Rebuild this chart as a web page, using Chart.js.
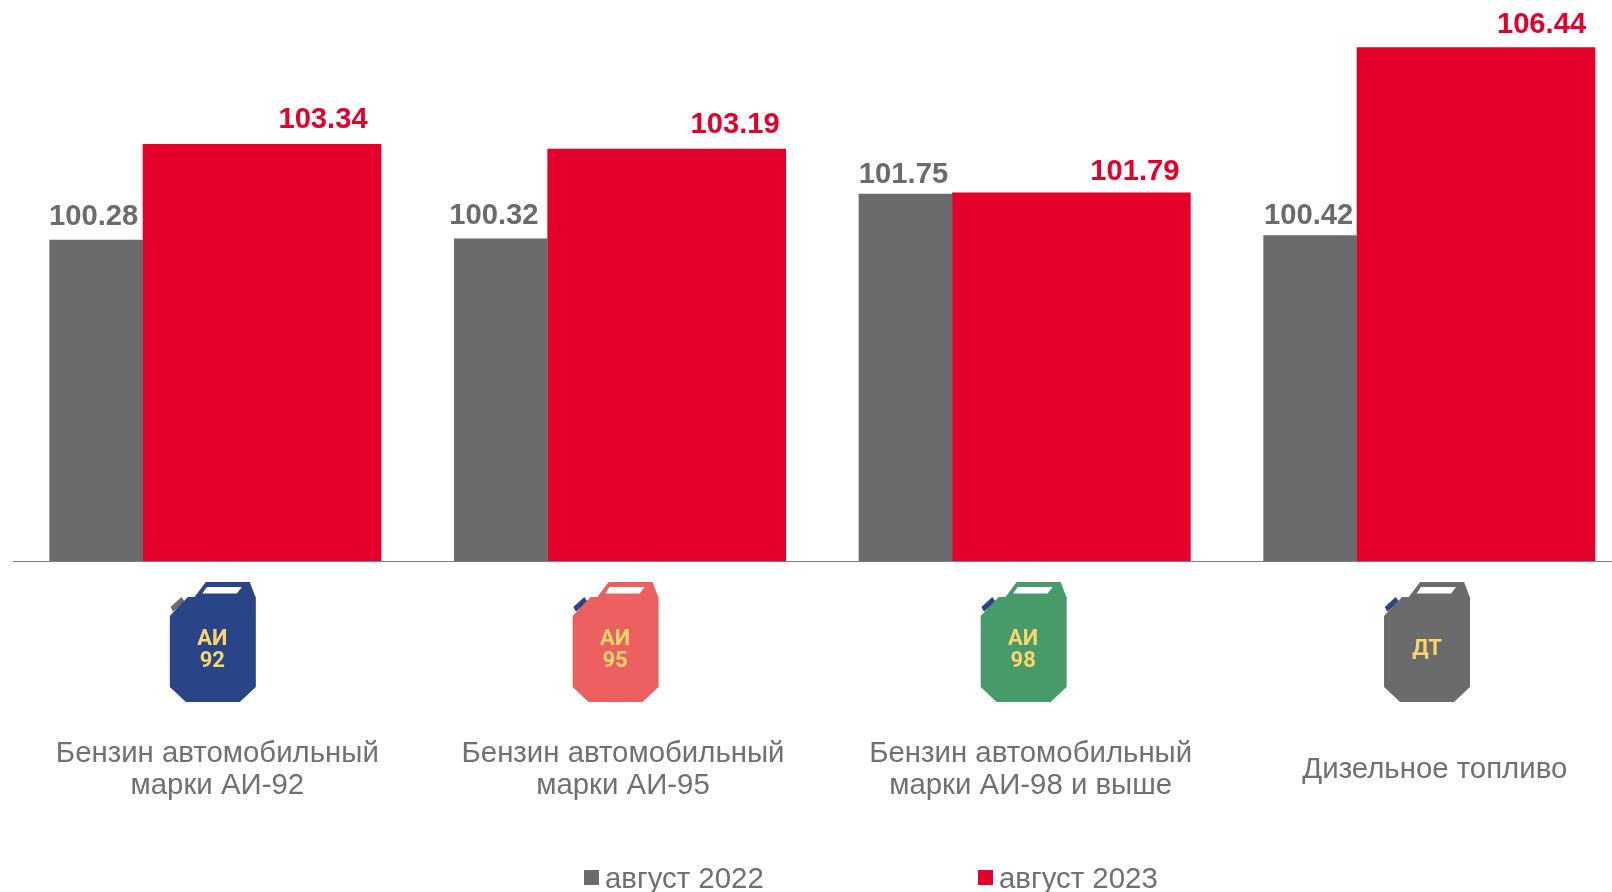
<!DOCTYPE html>
<html lang="ru">
<head>
<meta charset="utf-8">
<title>Индексы цен на топливо</title>
<script src="https://cdn.jsdelivr.net/npm/chart.js@4/dist/chart.umd.min.js"></script>
<style>
  html, body { margin: 0; padding: 0; background: #fff; overflow: hidden; }
  canvas { display: block; }
</style>
</head>
<body>
<canvas id="fuelChart" width="1612" height="892"></canvas>
<script>
// Chart data
const categories = [
  ["Бензин автомобильный", "марки АИ-92"],
  ["Бензин автомобильный", "марки АИ-95"],
  ["Бензин автомобильный", "марки АИ-98 и выше"],
  ["Дизельное топливо"],
];
const seriesNames = ["август 2022", "август 2023"];
const values2022 = [100.28, 100.32, 101.75, 100.42];
const values2023 = [103.34, 103.19, 101.79, 106.44];
const iconLabels = [["АИ", "92"], ["АИ", "95"], ["АИ", "98"], ["ДТ"]];

// Colours
const GRAY = "#6b6b6b";
const RED = "#e4002b";
const TEXT_GRAY = "#707070";
const YELLOW = "#f8d66d";
const NAVY = "#2a4488";
const iconBody = [NAVY, "#ec6060", "#479b6a", GRAY];
const iconCap = [GRAY, NAVY, NAVY, NAVY];

// Layout of the group (one x unit is one group)
const GRAY_SHIFT = -0.2945;
const RED_SHIFT = 0.1154;
const labelShift2022 = [-2.5, -7, -2, -1.5];
const labelShift2023 = [61, 68.5, 63.5, 65.5];
const labelRise2022 = [15, 15, 11, 12];
const labelRise2023 = [16, 16, 13, 15];
const categoryShift = [2, 3, 6, 5.5];
const iconShift = [-45.5, -47.4, -44, -45.3];

function drawIcon(ctx, x, y, i) {
  const poly = (pts, color) => {
    ctx.beginPath();
    pts.forEach((p, n) => (n ? ctx.lineTo(x + p[0], y + p[1]) : ctx.moveTo(x + p[0], y + p[1])));
    ctx.closePath();
    ctx.fillStyle = color;
    ctx.fill();
  };
  poly([[24, 16], [36, 0], [80, 0], [86, 16]], iconBody[i]);
  poly([[37, 5], [72, 5], [67, 11.5], [32.5, 11.5]], "#fff");
  poly([[0.7, 25], [11.7, 15], [15, 19.7], [3.3, 29.7]], iconCap[i]);
  poly([[18, 15], [86, 15], [86, 105], [70, 120], [16, 120], [0, 105], [0, 34]], iconBody[i]);

  ctx.fillStyle = YELLOW;
  ctx.font = "bold 22px Roboto";
  ctx.textAlign = "center";
  ctx.textBaseline = "middle";
  const lines = iconLabels[i];
  if (lines.length === 2) {
    ctx.fillText(lines[0], x + 42.5, y + 57);
    ctx.fillText(lines[1], x + 42.5, y + 79);
  } else {
    ctx.fillText(lines[0], x + 43, y + 67);
  }
}

// Value labels, icons, category captions and legend
const annotations = {
  id: "annotations",
  afterDatasetsDraw(chart) {
    const ctx = chart.ctx;
    const xs = chart.scales.x;
    const ys = chart.scales.y;
    ctx.save();

    ctx.font = "bold 29.2px 'Liberation Sans'";
    ctx.textAlign = "center";
    ctx.textBaseline = "alphabetic";
    chart.getDatasetMeta(0).data.forEach((bar, i) => {
      ctx.fillStyle = GRAY;
      ctx.fillText(values2022[i].toFixed(2), bar.x + labelShift2022[i], ys.getPixelForValue(values2022[i]) - labelRise2022[i]);
    });
    chart.getDatasetMeta(1).data.forEach((bar, i) => {
      ctx.fillStyle = RED;
      ctx.fillText(values2023[i].toFixed(2), bar.x + labelShift2023[i], ys.getPixelForValue(values2023[i]) - labelRise2023[i]);
    });

    categories.forEach((lines, i) => {
      const center = xs.getPixelForValue(i);
      drawIcon(ctx, center + iconShift[i], 582, i);
      ctx.fillStyle = TEXT_GRAY;
      ctx.font = "29.4px 'Liberation Sans'";
      ctx.textAlign = "center";
      ctx.textBaseline = "middle";
      if (lines.length === 2) {
        ctx.fillText(lines[0], center + categoryShift[i], 754);
        ctx.fillText(lines[1], center + categoryShift[i], 786);
      } else {
        ctx.fillText(lines[0], center + categoryShift[i], 770);
      }
    });

    // Legend
    const legendX = [584, 978];
    [GRAY, RED].forEach((color, i) => {
      ctx.fillStyle = color;
      ctx.fillRect(legendX[i], 870, 15, 15);
      ctx.fillStyle = TEXT_GRAY;
      ctx.font = "29.4px 'Liberation Sans'";
      ctx.textAlign = "left";
      ctx.textBaseline = "alphabetic";
      ctx.fillText(seriesNames[i], legendX[i] + 21, 888);
    });
    ctx.restore();
  },
};

const ctx = document.getElementById("fuelChart").getContext("2d");
new Chart(ctx, {
  type: "bar",
  data: {
    datasets: [
      {
        label: seriesNames[0],
        data: values2022.map((v, i) => ({ x: i + GRAY_SHIFT, y: v })),
        backgroundColor: GRAY,
        barThickness: 93,
      },
      {
        label: seriesNames[1],
        data: values2023.map((v, i) => ({ x: i + RED_SHIFT, y: v })),
        backgroundColor: RED,
        barThickness: 238,
      },
    ],
  },
  options: {
    responsive: false,
    animation: false,
    grouped: false,
    layout: { padding: { top: 2, left: 13, right: 0, bottom: 0 } },
    scales: {
      x: {
        type: "linear",
        offset: false,
        min: -0.5,
        max: 3.4514,
        grid: { display: false },
        ticks: { display: false },
        border: { display: true, color: "#7f7f7f", width: 1 },
        afterFit(scale) {
          scale.height = 331;
        },
      },
      y: {
        display: false,
        min: 90,
        max: 107.9,
      },
    },
    plugins: {
      legend: { display: false },
      tooltip: { enabled: false },
    },
  },
  plugins: [annotations],
});
</script>
</body>
</html>
